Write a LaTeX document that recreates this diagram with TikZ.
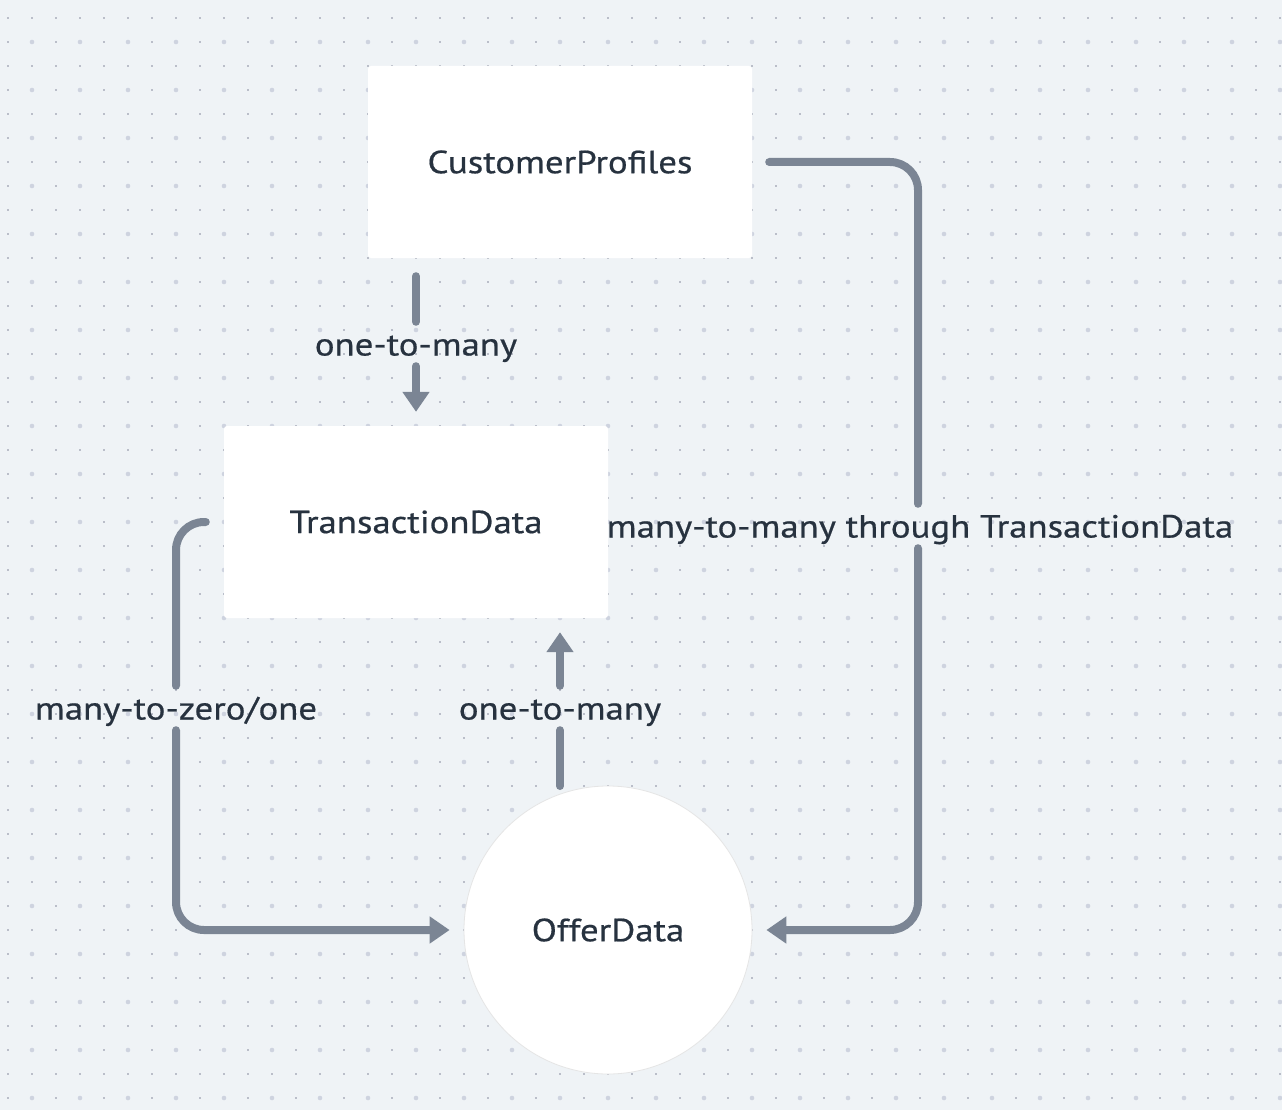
\documentclass[tikz,border=0pt]{standalone}
\usepackage{fontspec}
\setmainfont{PT Sans}[FakeStretch=1.15, FakeBold=0.6]
\usetikzlibrary{arrows.meta}
\definecolor{bgc}{HTML}{EFF3F6}
\definecolor{dotc}{HTML}{BABEC9}
\definecolor{bigdotc}{HTML}{CED3DF}
\definecolor{linec}{HTML}{7B8594}
\definecolor{textc}{HTML}{27323F}
\tikzset{
  diafont/.style={font=\fontsize{32}{38}\selectfont, text=textc},
  entity/.style={diafont, fill=white, rounded corners=3pt, minimum width=384pt, minimum height=192pt, inner sep=0pt},
  roundent/.style={diafont, circle, fill=white, draw=black!10, line width=0.8pt, minimum size=288pt, inner sep=0pt},
  lbl/.style={diafont, inner sep=0pt, minimum height=44pt, text height=26pt, text depth=3pt},
  conn/.style={draw=linec, line width=8pt, line cap=round, line join=round, rounded corners=28pt},
  tip/.style={-{Triangle[width=26pt,length=20pt]}},
}
\begin{document}
\begin{tikzpicture}[x=1pt,y=-1pt]
\useasboundingbox (0,0) rectangle (1282,1110);
\fill[bgc] (0,0) rectangle (1282,1110);
% dot grid
\foreach \i in {0,...,53}{
  \foreach \j in {0,...,45}{
    \fill[dotc] (7+24*\i,17+24*\j) rectangle +(2,2);
  }
}
\foreach \i in {0,...,26}{
  \foreach \j in {0,...,22}{
    \fill[bigdotc] (32+48*\i,42+48*\j) circle[radius=2.3];
  }
}
% entities
\node[entity] (CP) at (560,162) {CustomerProfiles};
\node[entity] (TD) at (416,522) {TransactionData};
\node[roundent] (OD) at (608,930) {OfferData};
\coordinate (odtop) at (560,786);
% labels
\node[lbl] (l1) at (416,344) {one-to-many};
\node[lbl] (l2) at (176,708) {many-to-zero/one};
\node[lbl] (l3) at (560,708) {one-to-many};
\node[lbl] (l4) at (920,526) {many-to-many through TransactionData};
% connectors
\draw[conn, shorten <=18pt] ([xshift=-144pt]CP.south) -- (l1.north);
\draw[conn, tip, shorten >=14pt] (l1.south) -- (TD.north);

\draw[conn, shorten <=18pt] (TD.west) -| (l2.north);
\draw[conn, tip, shorten >=14pt] (l2.south) |- (OD.west);

\draw[conn] (odtop) -- (l3.south);
\draw[conn, tip, shorten >=14pt] (l3.north) -- ([xshift=144pt]TD.south);

\draw[conn, shorten <=17pt] (CP.east) -| ([xshift=-2pt]l4.north);
\draw[conn, tip, shorten >=14pt] ([xshift=-2pt]l4.south) |- (OD.east);
\end{tikzpicture}
\end{document}
